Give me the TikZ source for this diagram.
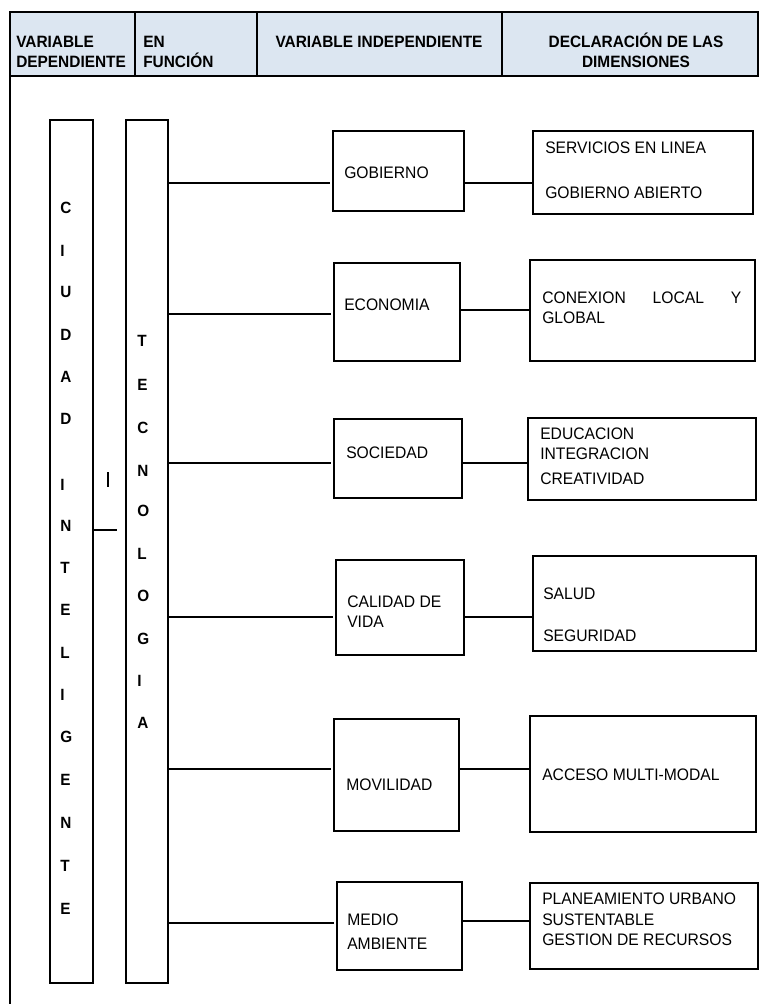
\documentclass[tikz,border=0pt]{standalone}
\usepackage{fontspec}
\setmainfont{Liberation Sans}[FakeStretch=0.94]
\usepackage{xcolor}
\usetikzlibrary{fit}
\definecolor{cabecera}{HTML}{DCE6F1}

\begin{document}
\begin{tikzpicture}[x=0.75pt,y=-0.75pt,
		caja/.style={draw, inner sep=0pt, line width=1pt},
		celda/.style={draw, fill=cabecera, inner sep=0pt, line width=1.2pt},
		linea/.style={line width=0.9pt},
		titulo/.style={font=\bfseries\fontsize{12.3}{14}\selectfont, inner sep=0pt},
		texto/.style={font=\fontsize{12.5}{14}\selectfont, inner sep=0pt, anchor=base west},
		letra/.style={font=\bfseries\fontsize{12.2}{13}\selectfont, inner sep=0pt, anchor=base west}]
		\useasboundingbox (0,0) rectangle (759,1004);
		% cabecera
		\node [celda, fit={(10,12) (135,76)}] (h1) {};
		\node [celda, fit={(135,12) (257,76)}] (h2) {};
		\node [celda, fit={(257,12) (502,76)}] (h3) {};
		\node [celda, fit={(502,12) (758,76)}] (h4) {};
		\node [titulo, anchor=base west] (h1a) at (16,47) {VARIABLE};
		\node [titulo, anchor=base west] (h1b) at (16,67) {DEPENDIENTE};
		\node [titulo, anchor=base west] (h2a) at (143,47) {EN};
		\node [titulo, anchor=base west] (h2b) at (143,67) {FUNCIÓN};
		\node [titulo, anchor=base] (h3a) at (379,47) {VARIABLE INDEPENDIENTE};
		\node [titulo, anchor=base] (h4a) at (636,47) {DECLARACIÓN DE LAS};
		\node [titulo, anchor=base] (h4b) at (636,67) {DIMENSIONES};
		\draw [linea] (10,76) -- (10,1004);
		% columnas
		\node [caja, fit={(50,120) (93,983)}] (ciudad) {};
		\node [caja, fit={(126,120) (168,983)}] (tec) {};
		\foreach \l/\y [count=\i] in {C/207,I/250,U/291,D/334,A/376,D/418,I/484,N/525,T/567,E/609,L/652,I/694,G/736,E/779,N/822,T/865,E/908}
			\node [letra] (ci\i) at (60,\y+6) {\l};
		\foreach \l/\y [count=\i] in {T/340,E/384,C/427,N/470,O/510,L/553,O/595,G/638,I/680,A/722}
			\node [letra] (te\i) at (137,\y+6) {\l};
		\coordinate (nudo) at (117,530);
		\draw [linea] (ciudad.east |- nudo) -- (nudo);
		\draw [linea] (108,472) -- (108,487);
		% variables
		\node [caja, fit={(333,131) (464,211)}] (gob) {};
		\node [caja, fit={(334,263) (460,361)}] (eco) {};
		\node [caja, fit={(334,419) (462,498)}] (soc) {};
		\node [caja, fit={(336,560) (464,655)}] (cal) {};
		\node [caja, fit={(334,719) (459,831)}] (mov) {};
		\node [caja, fit={(337,882) (462,970)}] (med) {};
		\node [texto] (gobt) at (344,178) {GOBIERNO};
		\node [texto] (ecot) at (344,310) {ECONOMIA};
		\node [texto] (soct) at (346,458) {SOCIEDAD};
		\node [texto] (calt) at (347,607) {CALIDAD DE};
		\node [texto] (calt2) at (347,627) {VIDA};
		\node [texto] (movt) at (346,790) {MOVILIDAD};
		\node [texto] (medt) at (347,925) {MEDIO};
		\node [texto] (medt2) at (347,949) {AMBIENTE};
		% dimensiones
		\node [caja, fit={(533,131) (753,214)}] (ser) {};
		\node [caja, fit={(530,260) (755,361)}] (con) {};
		\node [caja, fit={(528,418) (756,500)}] (edu) {};
		\node [caja, fit={(533,556) (756,651)}] (sal) {};
		\node [caja, fit={(530,716) (756,832)}] (acc) {};
		\node [caja, fit={(530,883) (758,969)}] (pla) {};
		\node [texto] (sert) at (545,153) {SERVICIOS EN LINEA};
		\node [texto] (sert2) at (545,198) {GOBIERNO ABIERTO};
		\node [texto] (cont) at (542,303) {\makebox[149.25pt][s]{CONEXION LOCAL Y}};
		\node [texto] (cont2) at (542,323) {GLOBAL};
		\node [texto] (edut) at (540,439) {EDUCACION};
		\node [texto] (edut2) at (540,459) {INTEGRACION};
		\node [texto] (edut3) at (540,484) {CREATIVIDAD};
		\node [texto] (salt) at (543,599) {SALUD};
		\node [texto] (salt2) at (543,641) {SEGURIDAD};
		\node [texto] (acct) at (542,780) {ACCESO MULTI-MODAL};
		\node [texto] (plat) at (542,904) {PLANEAMIENTO URBANO};
		\node [texto] (plat2) at (542,925) {SUSTENTABLE};
		\node [texto] (plat3) at (542,945) {GESTION DE RECURSOS};
		% conectores
		\foreach \b/\y in {gob/183,eco/314,soc/463,cal/617,mov/769,med/923}
			\draw [linea, shorten >=2pt] (tec.east |- 0,\y) -- (\b.west |- 0,\y);
		\foreach \a/\b/\y in {gob/ser/183,eco/con/310,soc/edu/463,cal/sal/617,mov/acc/769,med/pla/921}
			\draw [linea] (\a.east |- 0,\y) -- (\b.west |- 0,\y);
\end{tikzpicture}
\end{document}
